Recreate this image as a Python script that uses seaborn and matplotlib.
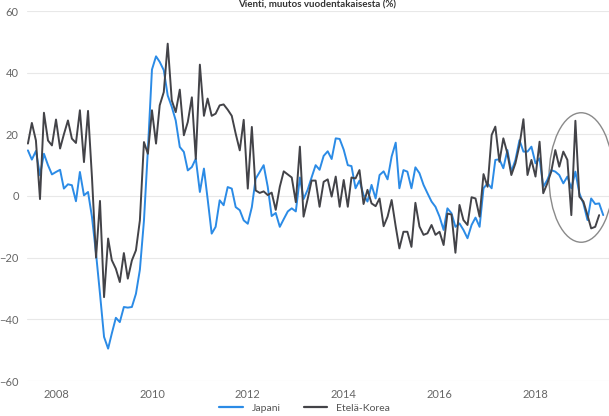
import matplotlib
matplotlib.use("Agg")
import matplotlib.pyplot as plt
import matplotlib.dates as mdates
from matplotlib.patches import Ellipse
import pandas as pd
import seaborn as sns

# kuukausidata, alkaa 6/2007
japani = [
    14.8, 11.8, 14.6, 6.7, 13.7, 10, 7, 7.8, 8.5, 2.4, 3.8, 3.5, -1.7, 7.8, 0.2,
    1.3, -6.8, -18.7, -31.7, -45.7, -49.5, -44.6, -39.5, -40.9, -36, -36.2, -36, -31.7, -23.9, -8,
    15, 41, 45.3, 43.5, 40.8, 32.6, 28.9, 24.5, 15.9, 14.3, 8.3, 9.4, 12.1, 1.3, 8.9,
    -0.9, -12.2, -10, -1.4, -3, 2.9, 2.4, -3.6, -4.6, -7.9, -9, -3.6, 5.6, 7.8, 10,
    3, -6.5, -5.5, -10, -7.5, -5, -4, -5, 6, -1, 2, 6, 10, 8.5, 13,
    14.5, 12, 18.7, 18.5, 15, 10, 9.7, 2.5, 5, 0.3, -1.8, 3.6, -0.8, 6.8, 8,
    5.4, 12.8, 17.3, 2.5, 8.4, 7.9, 2.5, 9.3, 7.4, 3.6, 0.9, -1.8, -3.5, -6.7, -11,
    -4, -5.6, -10, -8.9, -11, -13.7, -9.4, -7, -10, 2.5, 4.1, 2.5, 11.7, 11.9, 9,
    14.9, 7.9, 11.7, 18.1, 14.4, 14.4, 16, 10.6, 12.2, 3, 5.2, 8.4, 7.9, 6.8, 4.1,
    6.3, 2.5, 7.9, 0.9, -2.4, -7.8, -0.8, -2.6, -2.4, -6.2,
]
etela_korea = [
    17, 23.7, 18, -1, 27, 18, 16.4, 24.8, 15.4, 20, 24.5, 18.6, 17.2, 27.8, 11,
    27.6, 6, -20, -1.6, -32.8, -13.8, -20.8, -23.6, -27.9, -18.5, -26.8, -20.9, -17.6, -7.9, 17.5,
    13.7, 27.8, 17, 29.4, 33.7, 49.4, 31, 27.2, 34.5, 19.7, 24, 32, 12, 42.6, 26,
    31.6, 26, 26.7, 29.4, 29.7, 28, 26, 20.2, 14.8, 24.7, 2.4, 22.4, 1.8, 1, 1.5,
    0.3, 1.1, -4.5, 3, 8, 7, 6, -2, 16, -6.7, -1, 5, 5, -3.5, 4.6,
    5.4, -0.2, 6.3, -3.5, 5.2, -3.5, 6, 5.7, 8.4, -2.6, 2, -2.4, -3.3, -0.8, -9.8,
    -6.7, -1.3, -9.9, -17, -11.6, -11.6, -16.5, -2.2, -9.9, -12.6, -12.1, -9.4, -12.6, -11.6, -15.9,
    -5.7, -6, -18.4, -2.9, -7.8, -9.4, -0.4, -0.8, -6.7, 7.1, 3, 19.8, 22.5, 11.1, 18.7,
    13.8, 6.8, 10.6, 16.5, 24.9, 6.8, 11.7, 6.3, 17.6, 0.9, 4.1, 7.9, 14.9, 9.5, 14.4,
    11.7, -6.2, 24.4, -0.2, -1.8, -6.2, -10.5, -10, -6.2,
]
sarjat = ["Japani", "Etelä-Korea"]
varit = ["#2b8be6", "#434348"]
y_ticks = [-60, -40, -20, 0, 20, 40, 60]
x_vuodet = [2008, 2010, 2012, 2014, 2016, 2018]
otsikko = "Vienti, muutos vuodentakaisesta (%)"

df = pd.concat([
    pd.DataFrame({"pvm": pd.date_range("2007-06-01", periods=len(japani), freq="MS"),
                  "arvo": japani, "maa": sarjat[0]}),
    pd.DataFrame({"pvm": pd.date_range("2007-06-01", periods=len(etela_korea), freq="MS"),
                  "arvo": etela_korea, "maa": sarjat[1]}),
])

sns.set_style("white")
plt.rcParams["font.family"] = ["Lato", "DejaVu Sans"]

fig = plt.figure(figsize=(6.09, 4.16), dpi=100)
ax = fig.add_axes([27 / 609, 1 - 381 / 416, 1 - 27 / 609, 370 / 416])

sns.lineplot(data=df, x="pvm", y="arvo", hue="maa", hue_order=sarjat,
             palette=dict(zip(sarjat, varit)), linewidth=1.4, ax=ax, legend=False)

ax.set_ylim(-60, 60)
ax.set_xlim(pd.Timestamp("2007-05-25"), pd.Timestamp("2019-07-15"))
ax.set_yticks(y_ticks)
ax.set_xticks([pd.Timestamp(f"{v}-01-01") for v in x_vuodet])
ax.xaxis.set_major_formatter(mdates.DateFormatter("%Y"))
ax.grid(axis="y", color="#e8e8e8", linewidth=0.8)
ax.set_axisbelow(True)
for s in ax.spines.values():
    s.set_visible(False)
ax.tick_params(axis="both", length=0, labelsize=8, colors="#666666")
ax.tick_params(axis="y", pad=6)
ax.tick_params(axis="x", pad=6)
ax.set_xlabel("")
ax.set_ylabel("")

# ympyrä viimeisten kuukausien ympärille
ell = Ellipse((mdates.date2num(pd.Timestamp("2018-12-15")), 6), width=490, height=42,
              fill=False, edgecolor="#8a8a8a", linewidth=1.0, clip_on=False)
ax.add_patch(ell)

handles = [plt.Line2D([], [], color=c, linewidth=1.6) for c in varit]
fig.legend(handles, sarjat, loc="center", bbox_to_anchor=(0.5, 1 - 408 / 416), ncol=2,
           frameon=False, fontsize=7.5, handlelength=2.3, columnspacing=2.2,
           labelcolor="#555555")

fig.text(0.52, 0.999, otsikko, ha="center", va="top", fontsize=7,
         fontweight="bold", color="#333333")

fig.savefig("out.png", dpi=100)
